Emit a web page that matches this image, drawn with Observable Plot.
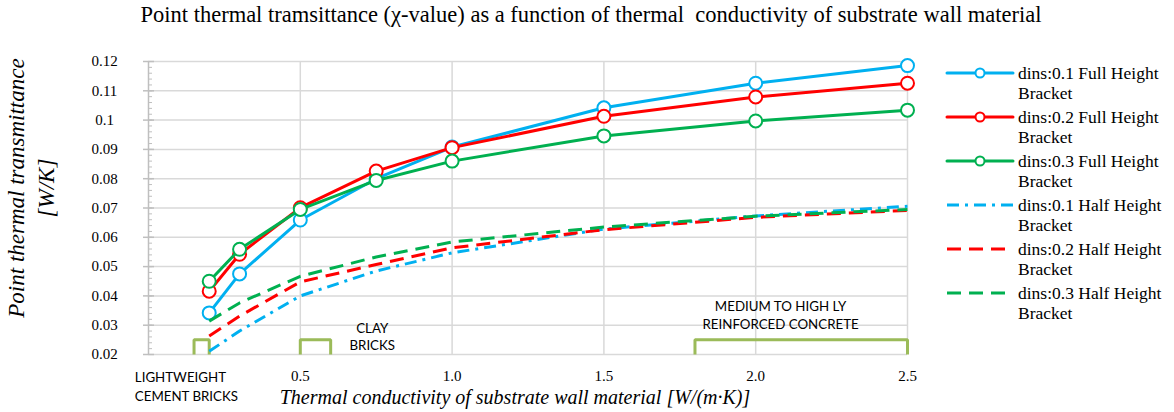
<!DOCTYPE html>
<html>
<head>
<meta charset="utf-8">
<script src="https://cdn.jsdelivr.net/npm/d3@7"></script>
<script src="https://cdn.jsdelivr.net/npm/@observablehq/plot@0.6"></script>
<style>
  body { margin: 0; background: #fff; }
  #wrap { position: relative; width: 1174px; height: 412px; overflow: hidden; font-family: "Liberation Serif", serif; }
  #wrap svg.plot { position: absolute; left: 0; top: 0; }
  .abs { position: absolute; white-space: pre; }
</style>
</head>
<body>
<div id="wrap"></div>
<script>
// ---- data ----
const conductivity = [0.2, 0.3, 0.5, 0.75, 1.0, 1.5, 2.0, 2.5];
const full01 = [0.0342, 0.0475, 0.0659, 0.0800, 0.0908, 0.1042, 0.1126, 0.1186];
const full02 = [0.0416, 0.0542, 0.0701, 0.0826, 0.0906, 0.1013, 0.1079, 0.1126];
const full03 = [0.0450, 0.0559, 0.0695, 0.0794, 0.0860, 0.0946, 0.0997, 0.1034];
const half01 = [0.0211, 0.0280, 0.0400, 0.0485, 0.0547, 0.0628, 0.0673, 0.0706];
const half02 = [0.0263, 0.0331, 0.0448, 0.0507, 0.0564, 0.0626, 0.0668, 0.0692];
const half03 = [0.0314, 0.0376, 0.0467, 0.0533, 0.0584, 0.0635, 0.0672, 0.0695];

const seriesNames = [
  "dins:0.1 Full Height\nBracket",
  "dins:0.2 Full Height\nBracket",
  "dins:0.3 Full Height\nBracket",
  "dins:0.1 Half Height\nBracket",
  "dins:0.2 Half Height\nBracket",
  "dins:0.3 Half Height\nBracket"
];
const seriesColors = ["#00b0f0", "#ff0000", "#00b050", "#00b0f0", "#ff0000", "#00b050"];
const seriesDash = [null, null, null, "12,6,3,6", "14,8", "14,8"];
const seriesMarkers = [true, true, true, false, false, false];
const seriesValues = [full01, full02, full03, half01, half02, half03];

const yTicks = [0.02, 0.03, 0.04, 0.05, 0.06, 0.07, 0.08, 0.09, 0.10, 0.11, 0.12];
const yMinorTicks = d3.range(0, 51).map(i => 0.02 + i * 0.002);
const xTicks = [0.5, 1.0, 1.5, 2.0, 2.5];

// material range annotations
const rangeStart = [0.15, 0.5, 1.8];
const rangeEnd = [0.2, 0.6, 2.5];
const rangeTop = 0.025;
const rangeBase = 0.02;
const rangeLabels = ["LIGHTWEIGHT\nCEMENT BRICKS", "CLAY\nBRICKS", "MEDIUM TO HIGH LY\nREINFORCED CONCRETE"];
const rangeLabelX = [-0.045, 0.737, 2.082];
const rangeLabelY = [0.0096, 0.02636, 0.03377];
const rangeLabelAnchor = ["start", "middle", "middle"];

const titleText = "Point thermal tramsittance (\u03c7-value) as a function of thermal  conductivity of substrate wall material";
const xLabel = "Thermal conductivity of substrate wall material [W/(m\u00b7K)]";
const yLabel1 = "Point thermal transmittance";
const yLabel2 = "[W/K]";

// ---- build tables ----
const tables = seriesValues.map(vals => conductivity.map((x, i) => ({x, y: vals[i]})));
const brackets = rangeStart.map((s, i) => [
  {x: s, y: rangeBase}, {x: s, y: rangeTop}, {x: rangeEnd[i], y: rangeTop}, {x: rangeEnd[i], y: rangeBase}
]);
const labelRows = rangeLabels.map((t, i) => ({t, x: rangeLabelX[i], y: rangeLabelY[i], a: rangeLabelAnchor[i]}));

const axisGray = "#bfbfbf";
const marks = [
  Plot.gridY(yTicks, {stroke: "#d9d9d9", strokeOpacity: 1, strokeWidth: 1.5}),
  Plot.gridX(xTicks, {stroke: "#d9d9d9", strokeOpacity: 1, strokeWidth: 1.5}),
  Plot.ruleX([0], {stroke: axisGray, strokeWidth: 1.5}),
  Plot.ruleY(yMinorTicks, {x1: 0, x2: 0, insetLeft: 0, insetRight: -4, stroke: axisGray}),
  Plot.ruleY(yTicks, {x1: 0, x2: 0, insetLeft: -5, insetRight: -6, stroke: axisGray, strokeWidth: 1.5}),
  Plot.axisY(yTicks, {tickSize: 0, tickPadding: 44, textAnchor: "middle", fill: "#000", label: null,
    tickFormat: d => String(+d.toFixed(2)), fontSize: 15}),
  Plot.axisX(xTicks, {tickSize: 0, tickPadding: 16, fill: "#000", label: null,
    tickFormat: d3.format(".1f"), fontSize: 15}),
];
brackets.forEach(b => marks.push(Plot.line(b, {x: "x", y: "y", stroke: "#9bbb59", strokeWidth: 3, strokeLinejoin: "miter", strokeLinecap: "butt"})));
marks.push(Plot.text(labelRows.filter(d => d.a === "start"), {x: "x", y: "y", text: "t", textAnchor: "start", lineHeight: 1.45, fontFamily: "Lato", fontSize: 13.3, fill: "#000"}));
marks.push(Plot.text(labelRows.filter(d => d.a === "middle"), {x: "x", y: "y", text: "t", textAnchor: "middle", lineHeight: 1.33, fontFamily: "Lato", fontSize: 13.3, fill: "#000"}));

tables.forEach((t, i) => {
  marks.push(Plot.line(t, {x: "x", y: "y", stroke: seriesColors[i], strokeWidth: 3,
    strokeDasharray: seriesDash[i] || undefined, strokeLinecap: seriesDash[i] ? "butt" : "round"}));
  if (seriesMarkers[i]) {
    marks.push(Plot.dot(t, {x: "x", y: "y", r: 6.5, fill: "#fff", stroke: seriesColors[i], strokeWidth: 2}));
  }
});

const chart = Plot.plot({
  width: 1174, height: 412,
  marginLeft: 148, marginRight: 267, marginTop: 61, marginBottom: 58,
  x: {domain: [0, 2.5]},
  y: {domain: [0.02, 0.12]},
  style: {fontFamily: "Liberation Serif", fontSize: "15px", color: "#000", background: "transparent", overflow: "visible"},
  marks
});
chart.classList.add("plot");
const wrap = document.getElementById("wrap");
wrap.appendChild(chart);

// title
const title = document.createElement("div");
title.className = "abs";
title.textContent = titleText;
Object.assign(title.style, {left: "0", width: "1182px", textAlign: "center", top: "4px", fontSize: "22.5px", lineHeight: "22.5px"});
wrap.appendChild(title);

// x label
const xl = document.createElement("div");
xl.className = "abs";
xl.textContent = xLabel;
Object.assign(xl.style, {left: "115px", width: "800px", textAlign: "center", top: "387px", fontSize: "20px", lineHeight: "20px", fontStyle: "italic"});
wrap.appendChild(xl);

// y label
const yl = document.createElement("div");
yl.className = "abs";
yl.textContent = yLabel1 + "\n" + yLabel2;
Object.assign(yl.style, {left: "32px", top: "188px", width: "320px", textAlign: "center", fontSize: "23px", fontStyle: "italic",
  lineHeight: "30px", transform: "translate(-50%, -50%) rotate(-90deg)"});
wrap.appendChild(yl);

// legend
seriesNames.forEach((name, i) => {
  const cy = 72.5 + 44 * i;
  const svg = d3.create("svg").attr("width", 70).attr("height", 16)
    .style("position", "absolute").style("left", "945px").style("top", (cy - 8) + "px");
  svg.append("line").attr("x1", 2).attr("x2", 68).attr("y1", 8).attr("y2", 8)
    .attr("stroke", seriesColors[i]).attr("stroke-width", 3)
    .attr("stroke-dasharray", seriesDash[i]).attr("stroke-linecap", seriesDash[i] ? "butt" : "round");
  if (seriesMarkers[i]) {
    svg.append("circle").attr("cx", 35).attr("cy", 8).attr("r", 4.5).attr("fill", "#fff")
      .attr("stroke", seriesColors[i]).attr("stroke-width", 2);
  }
  wrap.appendChild(svg.node());
  const tx = document.createElement("div");
  tx.className = "abs";
  tx.textContent = name;
  Object.assign(tx.style, {left: "1018px", top: (cy - 10) + "px", fontSize: "17.5px", lineHeight: "20px"});
  wrap.appendChild(tx);
});
</script>
</body>
</html>
